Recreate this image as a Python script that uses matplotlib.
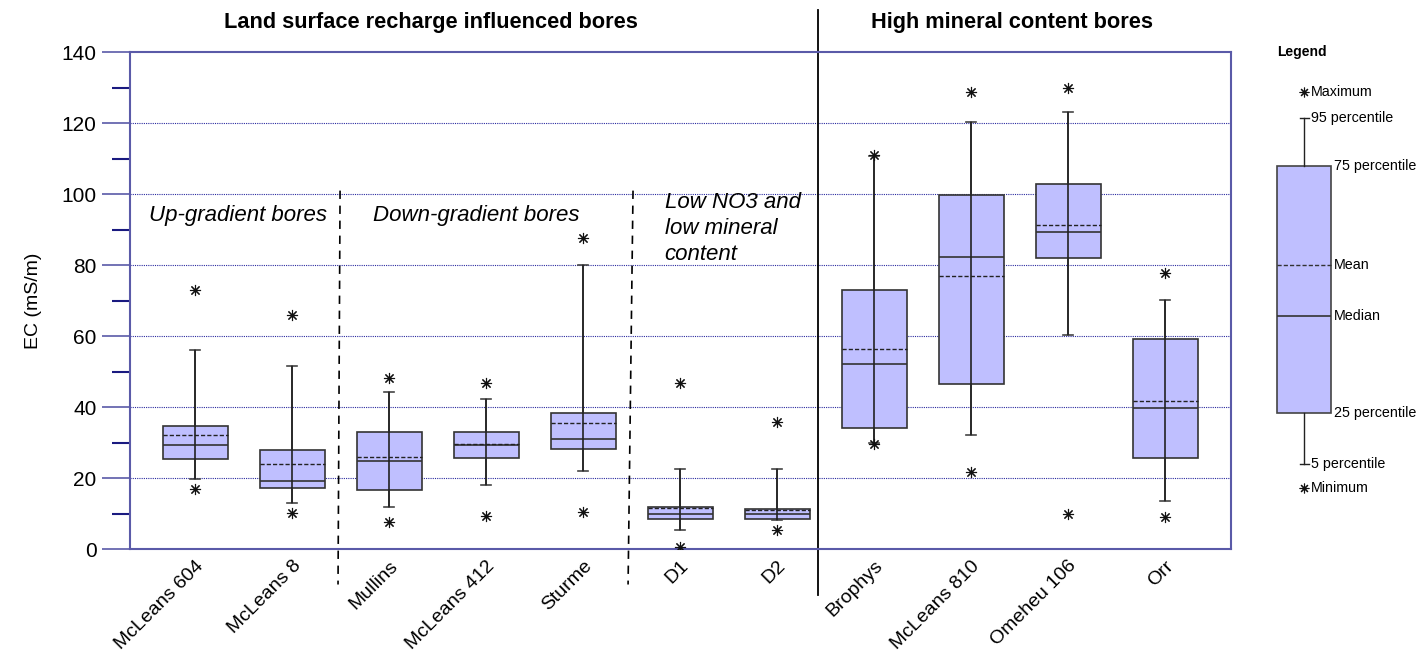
import numpy as np
import matplotlib.pyplot as plt

plt.rcParams['font.family'] = ['Liberation Sans', 'DejaVu Sans']

bores = ['McLeans 604', 'McLeans 8', 'Mullins', 'McLeans 412', 'Sturme',
         'D1', 'D2', 'Brophys', 'McLeans 810', 'Omeheu 106', 'Orr']

# EC (mS/m) statistics
minimum = [16.9, 10.1, 7.5, 9.3, 10.4, 0.7, 5.4, 29.6, 21.8, 10.0, 9.1]
p5 = [19.8, 13.0, 11.9, 18.1, 22.0, 5.4, 8.2, 29.8, 32.0, 60.4, 13.6]
p25 = [25.4, 17.1, 16.6, 25.6, 28.1, 8.5, 8.5, 34.1, 46.6, 82.1, 25.6]
median = [29.2, 19.2, 24.9, 29.2, 30.9, 9.8, 9.9, 52.1, 82.3, 89.4, 39.8]
mean = [32.0, 24.0, 25.8, 29.5, 35.4, 11.5, 11.1, 56.5, 76.8, 91.2, 41.6]
p75 = [34.6, 28.0, 32.9, 33.1, 38.3, 11.9, 11.3, 73.0, 99.9, 103.0, 59.2]
p95 = [56.2, 51.6, 44.3, 42.4, 80.1, 22.5, 22.5, 110.7, 120.2, 123.2, 70.1]
maximum = [73.0, 66.0, 48.3, 46.9, 87.7, 46.8, 35.9, 111.0, 128.9, 129.9, 77.8]

# legend schematic
leg_stats = {'min': 17.2, 'p5': 24.0, 'p25': 38.4, 'med': 65.8,
             'mean': 79.9, 'p75': 107.8, 'p95': 121.6, 'max': 128.7}

box_color = '#bfbfff'
spine_color = '#5a5aa8'
grid_color = '#2a2aa0'
star = (8, 2, 0)

fig = plt.figure(figsize=(14.26, 6.61), dpi=100)
ax = fig.add_axes([0.0912, 0.1694, 0.7721, 0.7516])

x = np.arange(len(bores))
stats = []
for i in range(len(bores)):
    stats.append(dict(whislo=p5[i], q1=p25[i], med=median[i], q3=p75[i],
                      whishi=p95[i], mean=mean[i], fliers=[]))

ax.bxp(stats, positions=x, widths=0.67, capwidths=0.1, patch_artist=True,
       showmeans=True, meanline=True, showfliers=False,
       boxprops=dict(facecolor=box_color, edgecolor='#333333', linewidth=1.2),
       medianprops=dict(color='#333333', linewidth=1.2),
       meanprops=dict(color='#222222', linewidth=1.0, linestyle=(0, (3, 1.5))),
       whiskerprops=dict(color='#444444', linewidth=1.2),
       capprops=dict(color='#444444', linewidth=1.2), zorder=3)
# whisker line runs through the box
ax.vlines(x, p5, p95, color='#222222', linewidth=1.2, zorder=4)
ax.plot(x, maximum, linestyle='none', marker=star, markersize=8,
        markeredgewidth=0.8, color='#111111', zorder=5)
ax.plot(x, minimum, linestyle='none', marker=star, markersize=8,
        markeredgewidth=0.8, color='#111111', zorder=5)

ax.set_xlim(-0.67, 10.68)
ax.set_ylim(0, 140)
ax.set_yticks(np.arange(0, 141, 20))
ax.set_yticks(np.arange(10, 140, 20), minor=True)
ax.tick_params(axis='y', which='major', length=20, width=1.2, color=spine_color,
               labelsize=15, pad=4)
ax.tick_params(axis='y', which='minor', length=13, width=1.5, color='#1a1a80')
ax.set_xticks(x)
ax.set_xticklabels(bores, rotation=45, ha='right', va='top',
                   rotation_mode='anchor', fontsize=14)
ax.tick_params(axis='x', length=0, pad=6)
ax.set_ylabel('EC (mS/m)', fontsize=14, labelpad=14)
for sp in ax.spines.values():
    sp.set_color(spine_color)
    sp.set_linewidth(1.5)
for g in range(20, 140, 20):
    ax.axhline(g, color=grid_color, linewidth=0.8, linestyle=(0, (1, 1)), zorder=1)

# group separators
ax.plot([1.495, 1.474], [101, -10], color='black', linestyle=(0, (5, 4)),
        linewidth=1.2, clip_on=False)
ax.plot([4.515, 4.464], [101, -10], color='black', linestyle=(0, (5, 4)),
        linewidth=1.2, clip_on=False)
ax.plot([6.42, 6.42], [152, -13], color='black', linewidth=1.3, clip_on=False)

ax.text(2.43, 148.5, 'Land surface recharge influenced bores', ha='center',
        va='center', fontsize=15.7, fontweight='bold')
ax.text(8.42, 148.5, 'High mineral content bores', ha='center', va='center',
        fontsize=15.7, fontweight='bold')
ax.text(-0.47, 94, 'Up-gradient bores', ha='left', va='center',
        fontsize=16, style='italic')
ax.text(1.83, 94, 'Down-gradient bores', ha='left', va='center',
        fontsize=16, style='italic')
ax.text(4.84, 100.5, 'Low NO3 and\nlow mineral\ncontent', ha='left', va='top',
        fontsize=16, style='italic', linespacing=1.3)

# legend panel
lax = fig.add_axes([1240 / 1426, 0.1694, 186 / 1426, 0.7516])
lax.set_xlim(0, 186)
lax.set_ylim(0, 140)
lax.axis('off')
cx = 64
lax.bxp([dict(whislo=leg_stats['p5'], q1=leg_stats['p25'], med=leg_stats['med'],
              q3=leg_stats['p75'], whishi=leg_stats['p95'], mean=leg_stats['mean'],
              fliers=[])],
        positions=[cx], widths=54, capwidths=9, patch_artist=True,
        showmeans=True, meanline=True, showfliers=False,
        boxprops=dict(facecolor=box_color, edgecolor='#444444', linewidth=1.2),
        medianprops=dict(color='#333333', linewidth=1.2),
        meanprops=dict(color='#333333', linewidth=1.0, linestyle=(0, (3, 1.5))),
        whiskerprops=dict(color='#222222', linewidth=1.0),
        capprops=dict(color='#222222', linewidth=1.0))
lax.plot([cx, cx], [leg_stats['max'], leg_stats['min']], linestyle='none',
         marker=star, markersize=7, markeredgewidth=0.8, color='#111111')
lax.text(37, 140, 'Legend', fontsize=10, fontweight='bold', va='center', ha='left')
for key, label, dx in [('max', 'Maximum', 71), ('p95', '95 percentile', 71),
                       ('p75', '75 percentile', 94), ('mean', 'Mean', 94),
                       ('med', 'Median', 94), ('p25', '25 percentile', 94),
                       ('p5', '5 percentile', 71), ('min', 'Minimum', 71)]:
    lax.text(dx, leg_stats[key], label, fontsize=10.3, va='center', ha='left')

fig.savefig('out.png', dpi=100)
